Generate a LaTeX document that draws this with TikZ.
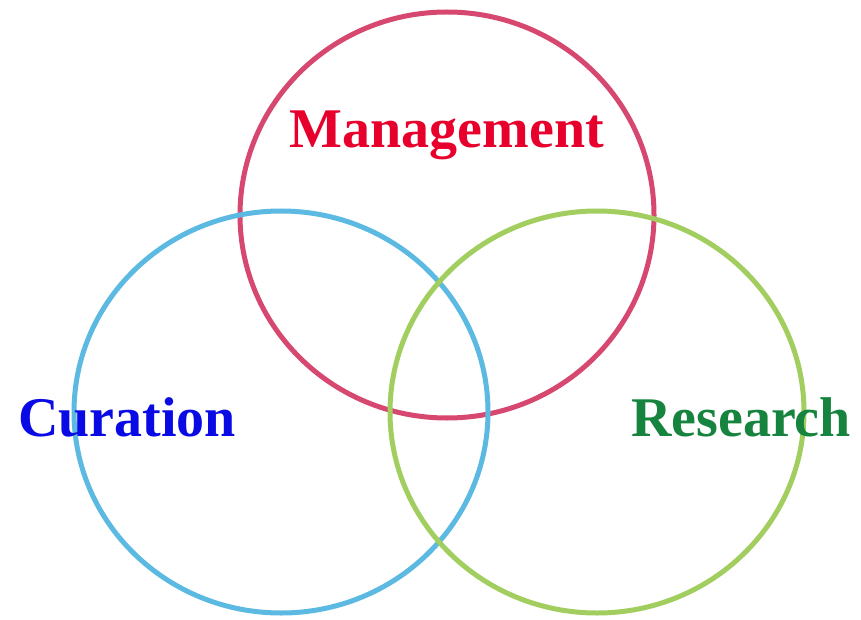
\documentclass[tikz,border=0pt]{standalone}
\usepackage{fontspec}
\setmainfont{Liberation Serif}
\definecolor{ringred}{RGB}{214,72,112}
\definecolor{ringblue}{RGB}{92,186,226}
\definecolor{ringgreen}{RGB}{162,206,96}
\definecolor{txtred}{RGB}{232,0,44}
\definecolor{txtblue}{RGB}{10,10,228}
\definecolor{txtgreen}{RGB}{22,132,62}
\begin{document}
\begin{tikzpicture}[x=1pt,y=-1pt,
  ring/.style={draw,line width=5pt},
  lbl/.style={font=\fontsize{56}{60}\selectfont\bfseries,anchor=base,inner sep=0pt}]
\useasboundingbox[fill=white] (0,0) rectangle (861,620);
\draw[ring,ringred] (447,215) ellipse[x radius=207,y radius=203];
\draw[ring,ringblue] (281,412) ellipse[x radius=207,y radius=201];
\draw[ring,ringgreen] (597,412) ellipse[x radius=207,y radius=201];
\node[lbl,text=txtred] (mgmt) at (447,148) {Management};
\node[lbl,text=txtblue] (cur) at (127,436) {Curation};
\node[lbl,text=txtgreen] (res) at (741,436) {Research};
\end{tikzpicture}
\end{document}
